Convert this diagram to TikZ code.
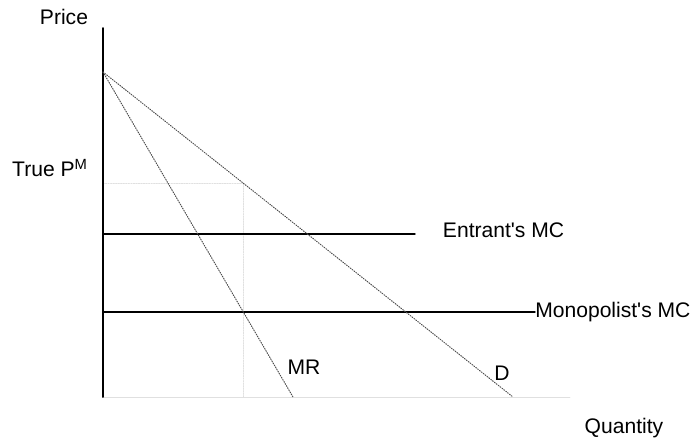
\documentclass[tikz,border=0pt]{standalone}
\usepackage{fontspec}
\setmainfont{Liberation Sans}
\usepackage{tkz-euclide}
\definecolor{CurveClr}{rgb}{0.3,0.3,0.3}
\definecolor{FaintClr}{rgb}{0.88,0.88,0.88}

\begin{document}
\begin{tikzpicture}[font=\fontsize{15}{18}\selectfont]
\tkzSetUpLine[line width=1pt,color=black]

\tkzDefPoints{-2.575/-1.175/BL,14.775/9.925/TR}
\useasboundingbox (BL) rectangle (TR);

\tkzDefPoints{0/0/O,0/9.225/Y,11.675/0/X,0/8.125/A,10.25/0/Dq,4.75/0/Rq}
\tkzDefPoints{0/4.075/E,7.8/4.075/Ee,0/2.125/M,10.8/2.125/Me}
\tkzDefPoints{3.508/2.125/Qm,3.508/5.345/Pm,0/5.345/Py}

% faint helper lines
\tkzDrawSegment[line width=0.8pt,FaintClr,densely dotted](Py,Pm)
\tkzDrawSegment[line width=0.8pt,FaintClr,densely dotted](Pm,O-|Pm)
\tkzDrawSegment[line width=0.6pt,FaintClr](O,X)

% axis and cost lines
\tkzDrawSegment[line width=1.4pt](O,Y)
\tkzDrawSegment(E,Ee)
\tkzDrawSegment(M,Me)

% demand and marginal revenue
\tkzDrawSegment[line width=0.7pt,CurveClr,densely dotted](A,Dq)
\tkzDrawSegment[line width=0.7pt,CurveClr,densely dotted](A,Rq)

\node (price) at (-0.975,9.5) {Price};
\node (truepm) at (-1.325,5.725) {True P\textsuperscript{M}};
\node[anchor=west] (entrant) at (8.375,4.175) {Entrant\textquotesingle s MC};
\node[anchor=west,inner sep=0pt] (monopolist) at (Me) {Monopolist\textquotesingle s MC};
\node (mr) at (5.025,0.75) {MR};
\node (dem) at (9.975,0.6) {D};
\node (quantity) at (13.025,-0.775) {Quantity};

\end{tikzpicture}
\end{document}
